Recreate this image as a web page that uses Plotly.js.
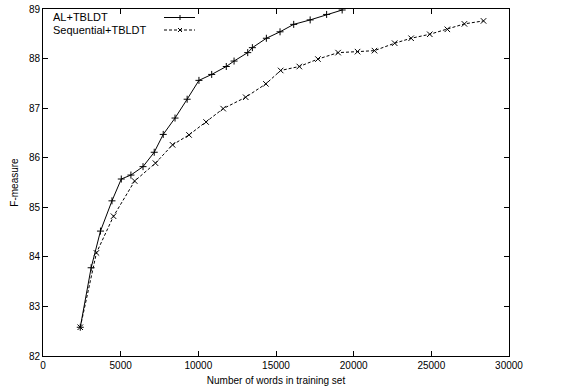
<!DOCTYPE html>
<html>
<head>
<meta charset="utf-8">
<script src="https://cdn.plot.ly/plotly-3.0.1.min.js"></script>
<style>html,body{margin:0;padding:0;background:#fff;}#chart{width:565px;height:390px;}</style>
</head>
<body>
<div id="chart"></div>
<script>
// Data
const alWords = [2400, 3100, 3700, 4440, 5040, 5660, 6440, 7160, 7740, 8500, 9280, 10040, 10860, 11800, 12300, 13180, 13480, 14380, 15260, 16140, 17200, 18260, 19260];
const alF = [82.58, 83.78, 84.52, 85.13, 85.57, 85.65, 85.82, 86.11, 86.47, 86.80, 87.18, 87.56, 87.68, 87.84, 87.95, 88.12, 88.22, 88.41, 88.54, 88.69, 88.78, 88.89, 88.98];
const seqWords = [2400, 3440, 4540, 5900, 7240, 8340, 9400, 10500, 11600, 13050, 14350, 15300, 16500, 17700, 19000, 20250, 21340, 22640, 23700, 24900, 26030, 27130, 28360];
const seqF = [82.58, 84.08, 84.82, 85.53, 85.89, 86.26, 86.46, 86.72, 86.99, 87.22, 87.49, 87.76, 87.84, 87.99, 88.12, 88.14, 88.16, 88.31, 88.41, 88.49, 88.59, 88.70, 88.76];
const seriesNames = ["AL+TBLDT", "Sequential+TBLDT"];
const xTicks = [0, 5000, 10000, 15000, 20000, 25000, 30000];
const yTicks = [82, 83, 84, 85, 86, 87, 88, 89];

const FONT = "Liberation Sans, Arial, sans-serif";

const traces = [
  {x: alWords, y: alF, name: seriesNames[0], mode: "lines+markers", type: "scatter",
   line: {color: "#000", width: 1},
   marker: {symbol: "cross-thin", size: 5, color: "#000", line: {color: "#000", width: 1}}},
  {x: seqWords, y: seqF, name: seriesNames[1], mode: "lines+markers", type: "scatter",
   line: {color: "#000", width: 1, dash: "3px,2px"},
   marker: {symbol: "x-thin", size: 5.5, color: "#000", line: {color: "#000", width: 1}}}
];

// Legend drawn gnuplot-style (text left, sample right) in paper coords
const L = 43, R = 509, T = 9, B = 356, W = 565, H = 390;
const px = v => (v - L) / (R - L);
const py = v => (B - v) / (B - T);
const shapes = [];
const annotations = [];
const legendRows = [17.5, 30];
legendRows.forEach((yy, i) => {
  annotations.push({xref: "paper", yref: "paper", x: px(51), y: py(yy), xanchor: "left", yanchor: "middle",
    text: seriesNames[i], showarrow: false, font: {family: FONT, size: 11, color: "#000"}});
  shapes.push({type: "line", xref: "paper", yref: "paper", x0: px(164), x1: px(195), y0: py(yy), y1: py(yy),
    line: {color: "#000", width: 1, dash: i === 0 ? "solid" : "3px,2px"}});
  const cx = 180, s = 2.5;
  if (i === 0) {
    shapes.push({type: "line", xref: "paper", yref: "paper", x0: px(cx), x1: px(cx), y0: py(yy - s), y1: py(yy + s), line: {color: "#000", width: 1}});
  } else {
    shapes.push({type: "line", xref: "paper", yref: "paper", x0: px(cx - 2), x1: px(cx + 2), y0: py(yy - 2), y1: py(yy + 2), line: {color: "#000", width: 1}});
    shapes.push({type: "line", xref: "paper", yref: "paper", x0: px(cx - 2), x1: px(cx + 2), y0: py(yy + 2), y1: py(yy - 2), line: {color: "#000", width: 1}});
  }
});

const layout = {
  width: W, height: H,
  margin: {l: L, r: W - R, t: T, b: H - B, pad: 0},
  paper_bgcolor: "#fff", plot_bgcolor: "#fff",
  showlegend: false,
  font: {family: FONT, size: 10, color: "#000"},
  xaxis: {range: [0, 30000], tickvals: xTicks, ticktext: xTicks.map(String),
    showgrid: false, zeroline: false, showline: true, linecolor: "#000", linewidth: 1, mirror: "ticks",
    ticks: "inside", ticklen: 5, tickcolor: "#000", tickwidth: 1,
    tickfont: {family: FONT, size: 10, color: "#000"},
    title: {text: "Number of words in training set", font: {family: FONT, size: 10, color: "#000"}, standoff: 6}},
  yaxis: {range: [82, 89], tickvals: yTicks, ticktext: yTicks.map(String),
    showgrid: false, zeroline: false, showline: true, linecolor: "#000", linewidth: 1, mirror: "ticks",
    ticks: "inside", ticklen: 5, tickcolor: "#000", tickwidth: 1,
    tickfont: {family: FONT, size: 10, color: "#000"},
    title: {text: "F-measure", font: {family: FONT, size: 10, color: "#000"}, standoff: 8}},
  shapes: shapes,
  annotations: annotations
};

Plotly.newPlot("chart", traces, layout, {staticPlot: true, displayModeBar: false});
</script>
</body>
</html>
